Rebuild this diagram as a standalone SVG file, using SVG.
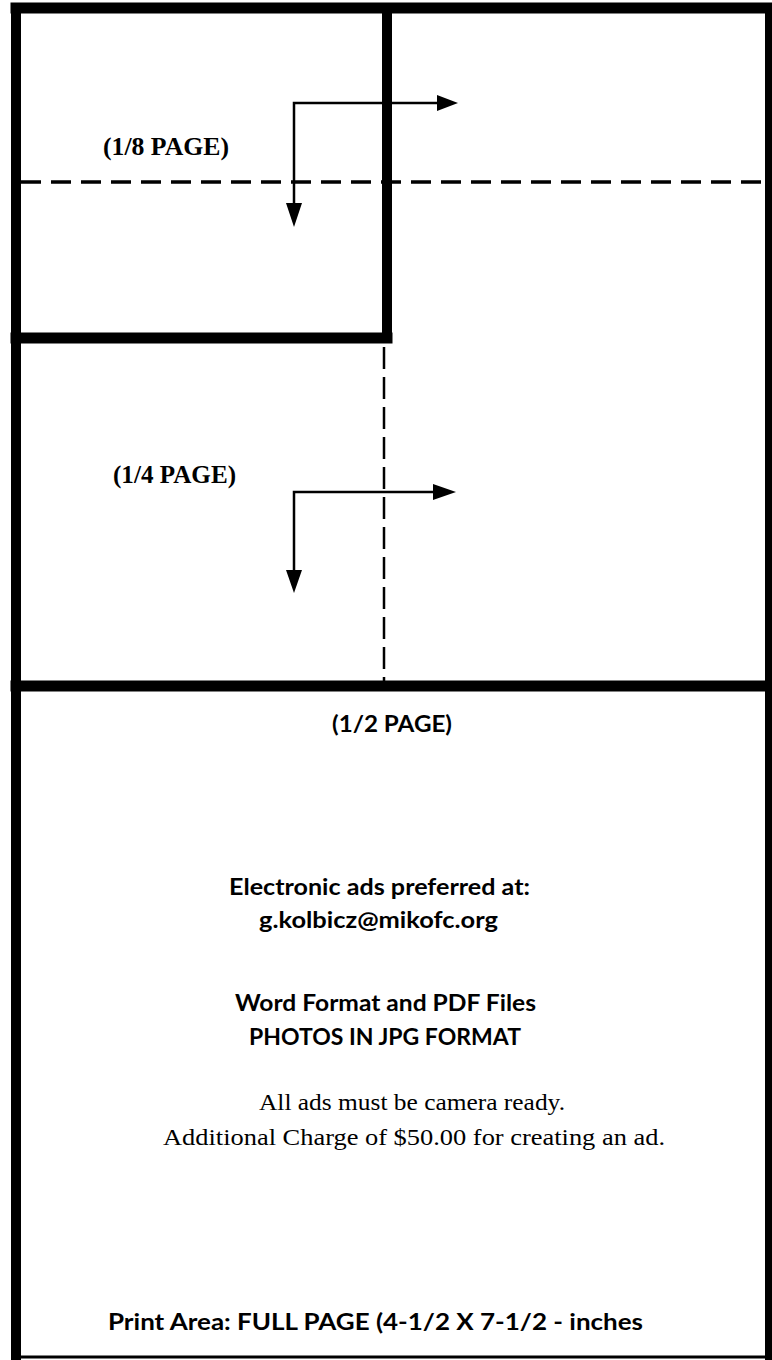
<svg xmlns="http://www.w3.org/2000/svg" width="772" height="1360" viewBox="0 0 772 1360">
<style>
.frame{stroke:#000;fill:none;stroke-linecap:square}
.dash{stroke:#000;fill:none}
.arr{stroke:#000;stroke-width:2.5;fill:none}
.head{fill:#000}
.lbl{font-family:"Liberation Serif","Times New Roman",serif;font-weight:bold;font-size:26px;fill:#000}
.sans{font-family:Lato,"Open Sans","Liberation Sans",sans-serif;font-weight:bold;font-size:22px;fill:#000;text-anchor:start}
.serif{font-family:"Liberation Serif","Times New Roman",serif;font-size:24px;fill:#000}
</style>
<rect width="772" height="1360" fill="#fff"/>
<g id="frame">
  <line class="frame" x1="16" y1="8" x2="16" y2="1360" stroke-width="10"/>
  <line class="frame" x1="16" y1="8" x2="772" y2="8" stroke-width="11"/>
  <line class="frame" x1="769" y1="8" x2="769" y2="1360" stroke-width="8"/>
  <line x1="16" y1="1357" x2="772" y2="1357" stroke="#000" stroke-width="3"/>
</g>
<g id="eighth-page">
  <line class="frame" x1="387" y1="8" x2="387" y2="338" stroke-width="10"/>
  <line class="frame" x1="16" y1="338" x2="387" y2="338" stroke-width="11"/>
  <text class="lbl" x="103" y="155" textLength="126" lengthAdjust="spacingAndGlyphs">(1/8 PAGE)</text>
</g>
<g id="quarter-page">
  <line class="frame" x1="16" y1="686" x2="769" y2="686" stroke-width="11"/>
  <text class="lbl" x="113" y="483" textLength="123" lengthAdjust="spacingAndGlyphs">(1/4 PAGE)</text>
</g>
<g id="half-page">
  <text class="sans" x="332" y="732" textLength="120" lengthAdjust="spacingAndGlyphs">(1/2 PAGE)</text>
  <text class="sans" x="229" y="895" textLength="301" lengthAdjust="spacingAndGlyphs">Electronic ads preferred at:</text>
  <text class="sans" x="259" y="928" textLength="239" lengthAdjust="spacingAndGlyphs">g.kolbicz@mikofc.org</text>
  <text class="sans" x="235" y="1011" textLength="301" lengthAdjust="spacingAndGlyphs">Word Format and PDF Files</text>
  <text class="sans" x="249" y="1045" textLength="272" lengthAdjust="spacingAndGlyphs">PHOTOS IN JPG FORMAT</text>
  <text class="serif" x="259" y="1110" textLength="306" lengthAdjust="spacingAndGlyphs">All ads must be camera ready.</text>
  <text class="serif" x="163" y="1145" textLength="502" lengthAdjust="spacingAndGlyphs">Additional Charge of $50.00 for creating an ad.</text>
  <text class="sans" x="108" y="1330" textLength="535" lengthAdjust="spacingAndGlyphs">Print Area: FULL PAGE (4-1/2 X 7-1/2 - inches</text>
</g>
<g id="connectors">
  <line class="dash" x1="21" y1="182" x2="765" y2="182" stroke-width="3.5" stroke-dasharray="20 10"/>
  <line class="dash" x1="384" y1="347" x2="384" y2="681" stroke-width="2.5" stroke-dasharray="22 8"/>
  <path class="arr" d="M294,205 V103 H438"/>
  <polygon class="head" points="437,95 458,103 437,111"/>
  <polygon class="head" points="286,203 294,227 302,203"/>
  <path class="arr" d="M294,571 V492 H434"/>
  <polygon class="head" points="433,484 456,492 433,500"/>
  <polygon class="head" points="286,570 294,593 302,570"/>
</g>
</svg>
